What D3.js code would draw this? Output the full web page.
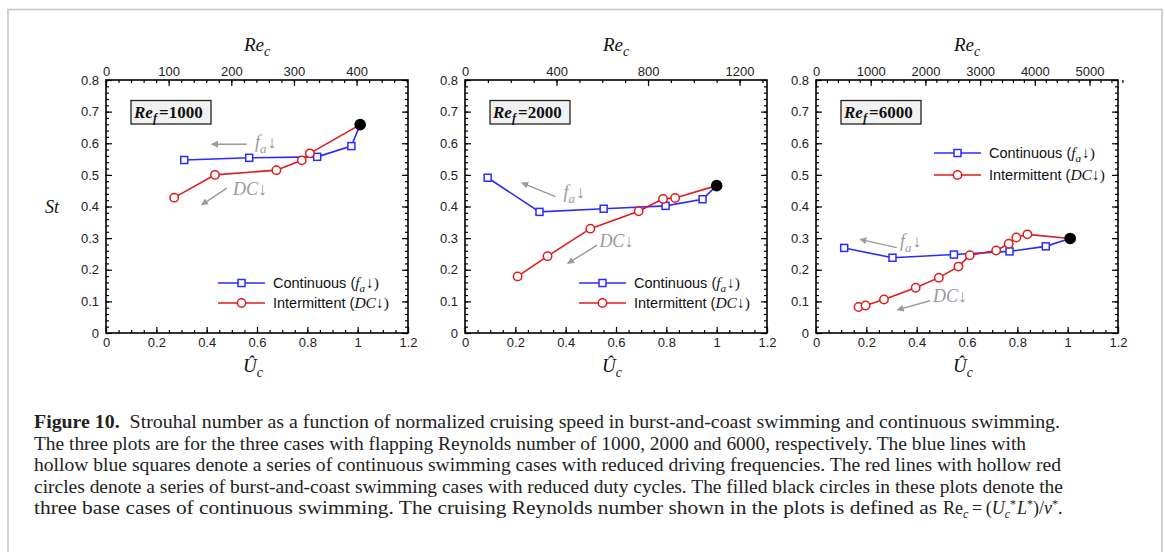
<!DOCTYPE html>
<html>
<head>
<meta charset="utf-8">
<script src="https://cdn.jsdelivr.net/npm/d3@7"></script>
<style>
  body { margin: 0; background: #fff; }
  svg { display: block; }
</style>
</head>
<body>
<div id="chart"></div>
<script>
// values, one entry per panel
const refF = [1000, 2000, 6000];
const reTopMax = [482, 1320, 5520];
const reTopTicks = [[0, 100, 200, 300, 400], [0, 400, 800, 1200], [0, 1000, 2000, 3000, 4000, 5000]];
const reTopMinor = [20, 100, 200];
const uTicks = [0, 0.2, 0.4, 0.6, 0.8, 1, 1.2];
const stTicks = [0, 0.1, 0.2, 0.3, 0.4, 0.5, 0.6, 0.7, 0.8];

const contU = [[0.311, 0.569, 0.839, 0.975], [0.090, 0.296, 0.551, 0.797, 0.944], [0.112, 0.304, 0.548, 0.769, 0.913]];
const contSt = [[0.547, 0.554, 0.557, 0.591], [0.491, 0.383, 0.393, 0.402, 0.423], [0.269, 0.238, 0.248, 0.258, 0.274]];
const intU = [[0.271, 0.433, 0.677, 0.778, 0.810], [0.209, 0.328, 0.498, 0.690, 0.787, 0.835],
  [0.169, 0.197, 0.270, 0.396, 0.488, 0.566, 0.611, 0.716, 0.766, 0.796, 0.840]];
const intSt = [[0.428, 0.500, 0.515, 0.546, 0.568], [0.179, 0.243, 0.330, 0.385, 0.424, 0.427],
  [0.082, 0.087, 0.106, 0.143, 0.175, 0.210, 0.246, 0.261, 0.282, 0.302, 0.312]];
const baseU = [1.01, 1.0, 1.01];
const baseSt = [0.659, 0.466, 0.299];

const captionLines = [
  "Strouhal number as a function of normalized cruising speed in burst-and-coast swimming and continuous swimming.",
  "The three plots are for the three cases with flapping Reynolds number of 1000, 2000 and 6000, respectively. The blue lines with",
  "hollow blue squares denote a series of continuous swimming cases with reduced driving frequencies. The red lines with hollow red",
  "circles denote a series of burst-and-coast swimming cases with reduced duty cycles. The filled black circles in these plots denote the",
  "three base cases of continuous swimming. The cruising Reynolds number shown in the plots is defined as"
];

// layout
const W = 1165, H = 552;
const plotLeft = [106, 465, 816];
const plotW = 302, plotTop = 80, plotBot = 333;
const BLUE = "#2b2bff", RED = "#e01b1b", GRAY = "#9a9a9a";
const sans = "'Liberation Sans', Arial, sans-serif";
const serif = "'Liberation Serif', 'Times New Roman', serif";

// legend + annotation placement (pixel / data coords per panel)
const legendPos = [{ x: 218, y1: 283, y2: 303 }, { x: 579, y1: 283, y2: 303 }, { x: 934, y1: 153, y2: 175 }];
const faArrow = [[0.559, 0.597, 0.42, 0.597, 0.592, 0.60], [0.359, 0.431, 0.226, 0.475, 0.391, 0.443], [0.321, 0.270, 0.175, 0.296, 0.334, 0.289]];
const dcArrow = [[0.48, 0.458, 0.38, 0.405, 0.505, 0.452], [0.525, 0.278, 0.408, 0.220, 0.534, 0.289], [0.453, 0.102, 0.323, 0.073, 0.465, 0.115]];

const svg = d3.select("#chart").append("svg").attr("width", W).attr("height", H);

svg.append("defs").append("marker")
  .attr("id", "ah").attr("viewBox", "0 0 10 10").attr("refX", 9).attr("refY", 5)
  .attr("markerWidth", 7).attr("markerHeight", 7).attr("orient", "auto-start-reverse")
  .attr("markerUnits", "userSpaceOnUse")
  .append("path").attr("d", "M0,0 L10,5 L0,10 z").attr("fill", GRAY);

// outer figure frame (open at the bottom edge)
svg.append("path")
  .attr("d", `M8,${H + 2} L8,9.5 L1162,9.5 L1162,${H + 2}`)
  .attr("fill", "none").attr("stroke", "#c4c4c4").attr("stroke-width", 1.5);

function range(a, b, s) { return d3.range(Math.round(a / s), Math.round(b / s) + 1).map(k => +(k * s).toFixed(6)); }

function mathLabel(sel, base, sub, rest, size, gap) {
  sel.append("tspan").attr("font-style", "italic").text(base);
  sel.append("tspan").attr("font-style", "italic").attr("font-size", size * 0.72).attr("dy", size * 0.28).text(sub);
  if (rest) sel.append("tspan").attr("dx", gap || 0).attr("dy", -size * 0.28).text(rest);
}

refF.forEach((rf, i) => {
  const x0 = plotLeft[i];
  const x = d3.scaleLinear().domain([0, 1.2]).range([x0, x0 + plotW]);
  const xTop = d3.scaleLinear().domain([0, reTopMax[i]]).range([x0, x0 + plotW]);
  const y = d3.scaleLinear().domain([0, 0.8]).range([plotBot, plotTop]);
  const g = svg.append("g");

  function styleAxis(ax) {
    ax.select(".domain").remove();
    ax.selectAll("line").attr("stroke", "#000").attr("stroke-width", 1.2);
    ax.selectAll("text").attr("font-family", sans).attr("font-size", 13).attr("fill", "#222");
  }

  // major + minor ticks, pointing inward
  const fmt = d => d3.format("~g")(d);
  styleAxis(g.append("g").attr("transform", `translate(0,${plotBot})`)
    .call(d3.axisBottom(x).tickValues(uTicks).tickSize(-6).tickPadding(5).tickFormat(fmt)));
  styleAxis(g.append("g").attr("transform", `translate(0,${plotBot})`)
    .call(d3.axisBottom(x).tickValues(range(0, 1.2, 0.05)).tickSize(-3).tickFormat("")));
  styleAxis(g.append("g").attr("transform", `translate(${x0},0)`)
    .call(d3.axisLeft(y).tickValues(stTicks).tickSize(-6).tickPadding(7).tickFormat(fmt)));
  styleAxis(g.append("g").attr("transform", `translate(${x0},0)`)
    .call(d3.axisLeft(y).tickValues(range(0, 0.8, 0.02)).tickSize(-3).tickFormat("")));
  styleAxis(g.append("g").attr("transform", `translate(${x0 + plotW},0)`)
    .call(d3.axisRight(y).tickValues(stTicks).tickSize(-6).tickFormat("")));
  styleAxis(g.append("g").attr("transform", `translate(${x0 + plotW},0)`)
    .call(d3.axisRight(y).tickValues(range(0, 0.8, 0.02)).tickSize(-3).tickFormat("")));
  styleAxis(g.append("g").attr("transform", `translate(0,${plotTop})`)
    .call(d3.axisTop(xTop).tickValues(reTopTicks[i]).tickSize(-6).tickPadding(4).tickFormat(d3.format("d"))));
  styleAxis(g.append("g").attr("transform", `translate(0,${plotTop})`)
    .call(d3.axisTop(xTop).tickValues(range(0, reTopMax[i], reTopMinor[i])).tickSize(-3).tickFormat("")));

  g.append("rect").attr("x", x0).attr("y", plotTop).attr("width", plotW).attr("height", plotBot - plotTop)
    .attr("fill", "none").attr("stroke", "#000").attr("stroke-width", 1.6);

  // axis titles
  const tTop = g.append("text").attr("x", x0 + plotW / 2).attr("y", 51).attr("text-anchor", "middle")
    .attr("font-family", serif).attr("font-size", 19).attr("fill", "#111");
  mathLabel(tTop, "Re", "c", null, 19);
  const tBot = g.append("text").attr("x", x0 + plotW / 2 - 4).attr("y", 372).attr("text-anchor", "middle")
    .attr("font-family", serif).attr("font-size", 19).attr("fill", "#111");
  mathLabel(tBot, "Û", "c", null, 19);
  if (i === 0) {
    g.append("text").attr("x", 52).attr("y", 213).attr("text-anchor", "middle")
      .attr("font-family", serif).attr("font-size", 18).attr("font-style", "italic").attr("fill", "#111").text("St");
  }

  // Re_f box
  const bx = x0 + 25, by = 100.5;
  g.append("rect").attr("x", bx).attr("y", by).attr("width", 80).attr("height", 23.5)
    .attr("fill", "#f1f1f1").attr("stroke", "#222").attr("stroke-width", 1.3);
  const rt = g.append("text").attr("x", bx + 3).attr("y", by + 17).attr("font-family", serif)
    .attr("font-size", 17).attr("font-weight", "bold").attr("fill", "#111");
  mathLabel(rt, "Re", "f", "=" + rf, 17, 2);

  // annotations
  [faArrow[i], dcArrow[i]].forEach((a, k) => {
    g.append("line").attr("x1", x(a[0])).attr("y1", y(a[1])).attr("x2", x(a[2])).attr("y2", y(a[3]))
      .attr("stroke", GRAY).attr("stroke-width", 1.4).attr("marker-end", "url(#ah)");
    const t = g.append("text").attr("x", x(a[4])).attr("y", y(a[5]) + 5)
      .attr("font-family", serif).attr("font-size", 18).attr("fill", GRAY);
    if (k === 0) mathLabel(t, "f", "a", "↓", 18, 1);
    else { t.append("tspan").attr("font-style", "italic").text("DC"); t.append("tspan").text("↓"); }
  });

  // series
  const line = d3.line().x(d => x(d[0])).y(d => y(d[1]));
  const cont = contU[i].map((u, j) => [u, contSt[i][j]]);
  const inter = intU[i].map((u, j) => [u, intSt[i][j]]);
  const base = [baseU[i], baseSt[i]];
  g.append("path").datum(cont.concat([base])).attr("d", line).attr("fill", "none").attr("stroke", BLUE).attr("stroke-width", 1.6);
  g.append("path").datum(inter.concat([base])).attr("d", line).attr("fill", "none").attr("stroke", RED).attr("stroke-width", 1.6);
  g.selectAll(".sq").data(cont).join("rect")
    .attr("x", d => x(d[0]) - 3.5).attr("y", d => y(d[1]) - 3.5).attr("width", 7).attr("height", 7)
    .attr("fill", "#fff").attr("stroke", BLUE).attr("stroke-width", 1.5);
  g.selectAll(".ci").data(inter).join("circle")
    .attr("cx", d => x(d[0])).attr("cy", d => y(d[1])).attr("r", 4.2)
    .attr("fill", "#fff").attr("stroke", RED).attr("stroke-width", 1.5);
  g.append("circle").attr("cx", x(base[0])).attr("cy", y(base[1])).attr("r", 5.8).attr("fill", "#000");

  // legend
  const L = legendPos[i];
  [[L.y1, BLUE, "sq"], [L.y2, RED, "ci"]].forEach(([ly, col, m]) => {
    g.append("line").attr("x1", L.x).attr("x2", L.x + 47).attr("y1", ly).attr("y2", ly).attr("stroke", col).attr("stroke-width", 1.6);
    if (m === "sq") g.append("rect").attr("x", L.x + 23.5 - 3.5).attr("y", ly - 3.5).attr("width", 7).attr("height", 7)
      .attr("fill", "#fff").attr("stroke", col).attr("stroke-width", 1.5);
    else g.append("circle").attr("cx", L.x + 23.5).attr("cy", ly).attr("r", 4.2)
      .attr("fill", "#fff").attr("stroke", col).attr("stroke-width", 1.5);
  });
  const fs = 14.5;
  const t1 = g.append("text").attr("x", L.x + 55).attr("y", L.y1 + 5).attr("font-family", sans).attr("font-size", fs).attr("fill", "#111");
  t1.append("tspan").text("Continuous (");
  const fm = t1.append("tspan").attr("font-family", serif).attr("font-size", fs + 1);
  mathLabel(fm, "f", "a", null, fs + 1);
  t1.append("tspan").attr("dx", 1).attr("dy", -(fs + 1) * 0.28).attr("font-family", serif).attr("font-size", fs + 1).text("↓)");
  const t2 = g.append("text").attr("x", L.x + 55).attr("y", L.y2 + 5).attr("font-family", sans).attr("font-size", fs).attr("fill", "#111");
  t2.append("tspan").text("Intermittent (");
  t2.append("tspan").attr("font-family", serif).attr("font-size", fs + 1).attr("font-style", "italic").text("DC");
  t2.append("tspan").attr("font-family", serif).attr("font-size", fs + 1).text("↓)");
});

// caption (Liberation Serif is narrower than the original face, so glyphs are widened to fit)
const capX = 34, capY = 428, capLH = 21.5;
const capEnds = [1060, 1026, 1061, 1063, 937];
captionLines.forEach((txt, k) => {
  const t = svg.append("text").attr("x", capX).attr("y", capY + k * capLH)
    .attr("font-family", serif).attr("font-size", 19).attr("fill", "#222")
    .attr("textLength", capEnds[k] - capX).attr("lengthAdjust", "spacingAndGlyphs");
  if (k === 0) {
    t.append("tspan").attr("font-weight", "bold").text("Figure 10.");
    t.append("tspan").text("\u2002" + txt);
  } else t.text(txt);
});
const m = svg.append("text").attr("x", 943).attr("y", capY + 4 * capLH)
  .attr("font-family", serif).attr("font-size", 18).attr("fill", "#222");
m.append("tspan").text("Re");
m.append("tspan").attr("font-size", 12).attr("font-style", "italic").attr("dy", 4).text("c");
m.append("tspan").attr("dy", -4).text("\u2009=\u2009(");
m.append("tspan").attr("font-style", "italic").text("U");
m.append("tspan").attr("font-size", 12).attr("font-style", "italic").attr("dy", 4).text("c");
m.append("tspan").attr("font-size", 12).attr("dy", -10).text("*");
m.append("tspan").attr("font-style", "italic").attr("dx", 1).attr("dy", 6).text("L");
m.append("tspan").attr("font-size", 12).attr("dy", -6).text("*");
m.append("tspan").attr("dy", 6).text(")/");
m.append("tspan").attr("font-style", "italic").text("ν");
m.append("tspan").attr("font-size", 12).attr("dy", -6).text("*");
m.append("tspan").attr("dy", 6).text(".");
</script>
</body>
</html>
